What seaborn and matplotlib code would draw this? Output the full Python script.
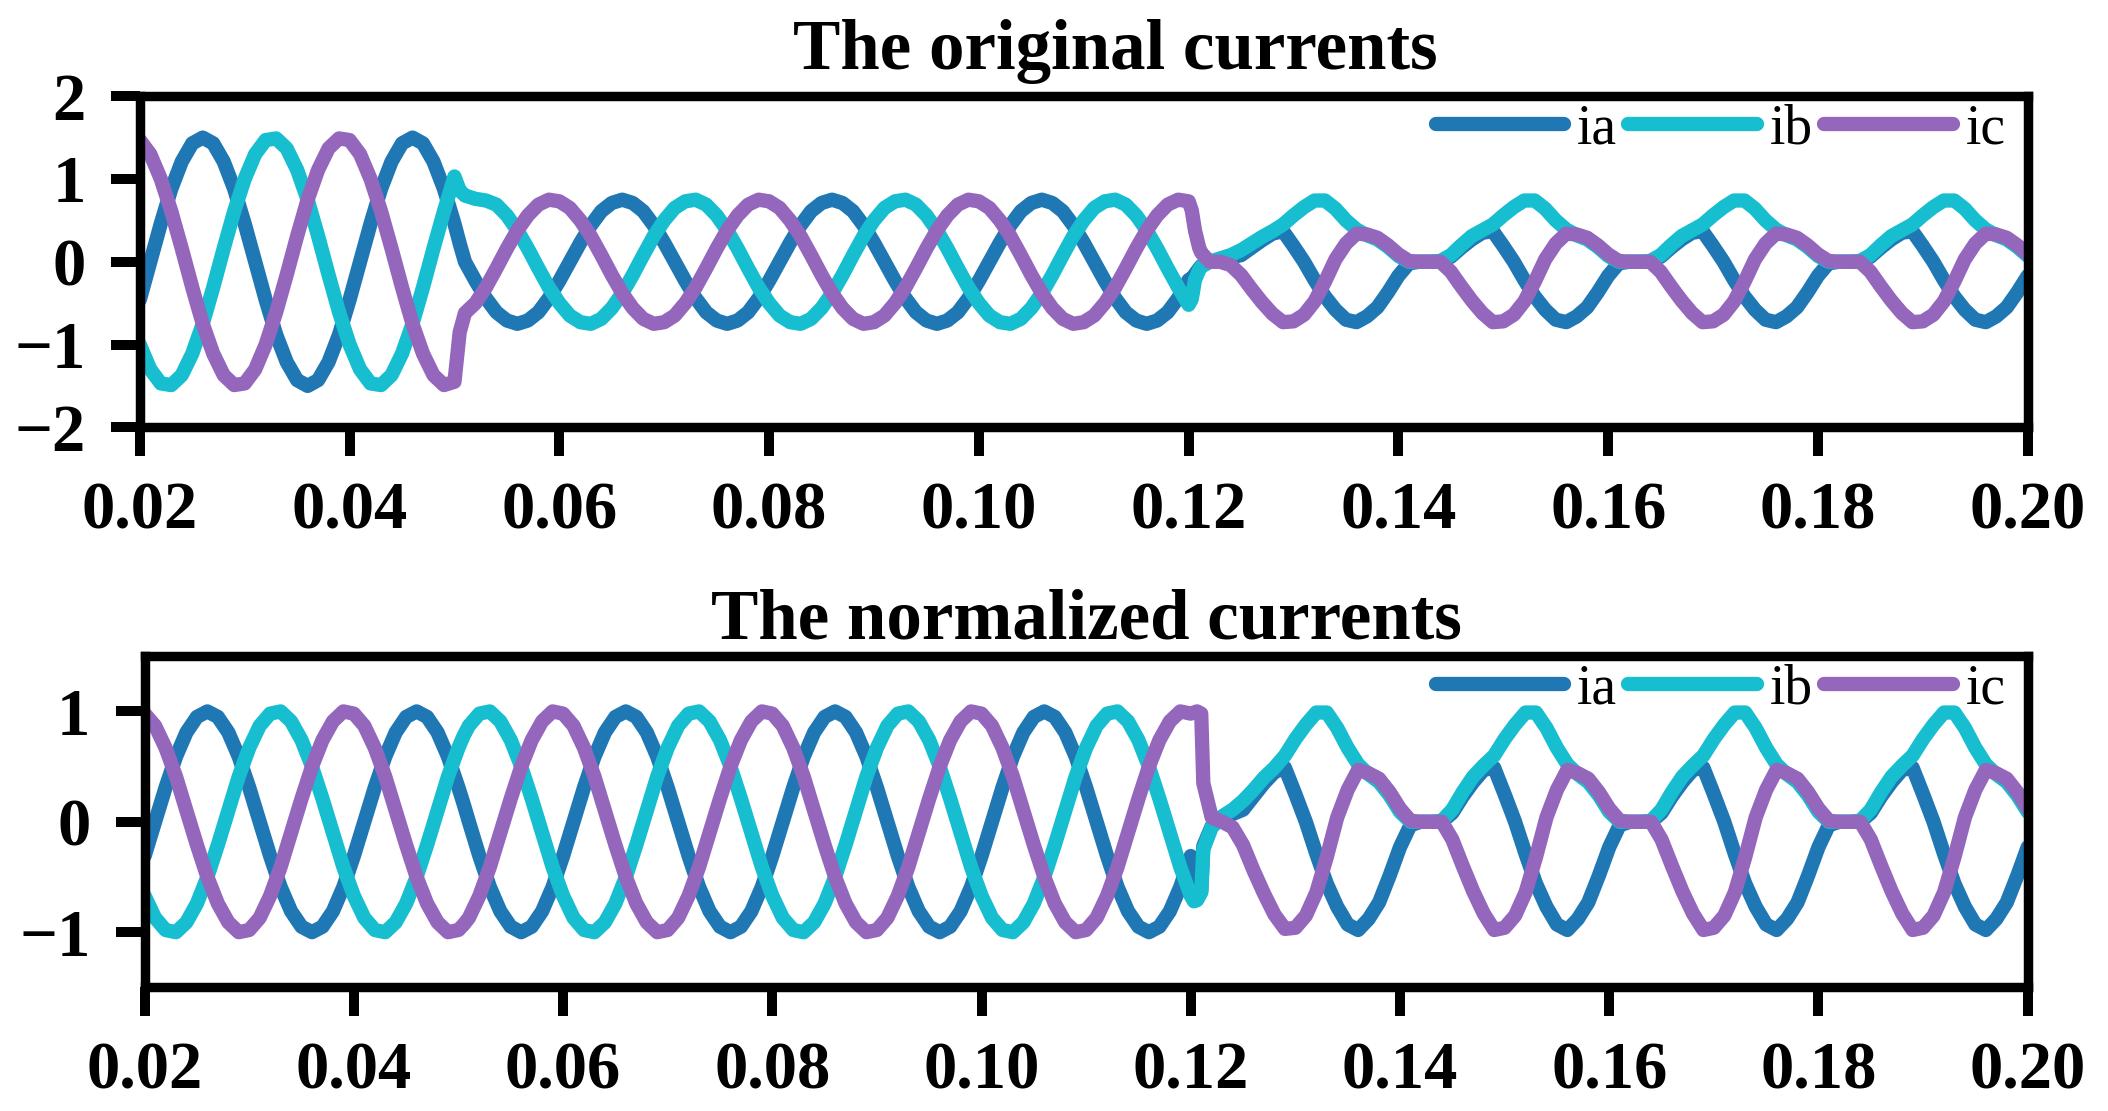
import matplotlib
matplotlib.use("Agg")
import matplotlib.pyplot as plt
import seaborn as sns
import numpy as np

# ---------------- data (time in ms) ----------------
t_ms = [20, 21, 22, 23, 24, 25, 26, 27, 28, 29,
        30, 31, 32, 33, 34, 35, 36, 37, 38, 39,
        40, 41, 42, 43, 44, 45, 46, 47, 48, 49,
        50, 50.5, 51, 52, 53, 54, 55, 56, 57, 58, 59,
        60, 61, 62, 63, 64, 65, 66, 67, 68, 69,
        70, 71, 72, 73, 74, 75, 76, 77, 78, 79,
        80, 81, 82, 83, 84, 85, 86, 87, 88, 89,
        90, 91, 92, 93, 94, 95, 96, 97, 98, 99,
        100, 101, 102, 103, 104, 105, 106, 107, 108, 109,
        110, 111, 112, 113, 114, 115, 116, 117, 118, 119,
        120, 120.3, 120.6, 121, 121.2, 122, 123, 124, 125, 126, 127, 128, 129,
        130, 131, 132, 133, 134, 135, 136, 137, 138, 139,
        140, 141, 142, 143, 144, 145, 146, 147, 148, 149,
        150, 151, 152, 153, 154, 155, 156, 157, 158, 159,
        160, 161, 162, 163, 164, 165, 166, 167, 168, 169,
        170, 171, 172, 173, 174, 175, 176, 177, 178, 179,
        180, 181, 182, 183, 184, 185, 186, 187, 188, 189,
        190, 191, 192, 193, 194, 195, 196, 197, 198, 199,
        200]

ia_orig = [-0.46, 0.0, 0.46, 0.88, 1.21, 1.43, 1.50, 1.43, 1.21, 0.88,
           0.46, 0.0, -0.46, -0.88, -1.21, -1.43, -1.50, -1.43, -1.21, -0.88,
           -0.46, 0.0, 0.46, 0.88, 1.21, 1.43, 1.50, 1.43, 1.21, 0.88,
           0.46, 0.22, 0.0, -0.23, -0.44, -0.61, -0.71, -0.75, -0.71, -0.61, -0.44,
           -0.23, 0.0, 0.23, 0.44, 0.61, 0.71, 0.75, 0.71, 0.61, 0.44,
           0.23, 0.0, -0.23, -0.44, -0.61, -0.71, -0.75, -0.71, -0.61, -0.44,
           -0.23, 0.0, 0.23, 0.44, 0.61, 0.71, 0.75, 0.71, 0.61, 0.44,
           0.23, 0.0, -0.23, -0.44, -0.61, -0.71, -0.75, -0.71, -0.61, -0.44,
           -0.23, 0.0, 0.23, 0.44, 0.61, 0.71, 0.75, 0.71, 0.61, 0.44,
           0.23, 0.0, -0.23, -0.44, -0.61, -0.71, -0.75, -0.71, -0.61, -0.44,
           -0.22, -0.20, -0.15, -0.08, -0.05, 0.0, 0.02, 0.05, 0.08, 0.17, 0.26, 0.34, 0.37,
           0.19, 0.0, -0.22, -0.42, -0.58, -0.70, -0.73, -0.66, -0.55, -0.37,
           -0.17, -0.02, 0.0, 0.0, 0.0, 0.06, 0.17, 0.27, 0.35, 0.37,
           0.19, 0.0, -0.22, -0.42, -0.58, -0.70, -0.73, -0.66, -0.55, -0.37,
           -0.17, -0.02, 0.0, 0.0, 0.0, 0.06, 0.17, 0.27, 0.35, 0.37,
           0.19, 0.0, -0.22, -0.42, -0.58, -0.70, -0.73, -0.66, -0.55, -0.37,
           -0.17, -0.02, 0.0, 0.0, 0.0, 0.06, 0.17, 0.27, 0.35, 0.37,
           0.19, 0.0, -0.22, -0.42, -0.58, -0.70, -0.73, -0.66, -0.55, -0.37,
           -0.17]

ib_orig = [-1.00, -1.30, -1.47, -1.49, -1.37, -1.11, -0.75, -0.31, 0.16, 0.61,
           1.00, 1.30, 1.47, 1.49, 1.37, 1.11, 0.75, 0.31, -0.16, -0.61,
           -1.00, -1.30, -1.47, -1.49, -1.37, -1.11, -0.75, -0.31, 0.16, 0.61,
           1.03, 0.86, 0.80, 0.76, 0.74, 0.69, 0.56, 0.38, 0.16, -0.08, -0.31,
           -0.50, -0.65, -0.73, -0.75, -0.69, -0.56, -0.38, -0.16, 0.08, 0.31,
           0.50, 0.65, 0.73, 0.75, 0.69, 0.56, 0.38, 0.16, -0.08, -0.31,
           -0.50, -0.65, -0.73, -0.75, -0.69, -0.56, -0.38, -0.16, 0.08, 0.31,
           0.50, 0.65, 0.73, 0.75, 0.69, 0.56, 0.38, 0.16, -0.08, -0.31,
           -0.50, -0.65, -0.73, -0.75, -0.69, -0.56, -0.38, -0.16, 0.08, 0.31,
           0.50, 0.65, 0.73, 0.75, 0.69, 0.56, 0.38, 0.16, -0.08, -0.31,
           -0.52, -0.45, -0.22, -0.10, -0.06, 0.0, 0.04, 0.08, 0.14, 0.22, 0.30, 0.37, 0.45,
           0.56, 0.66, 0.74, 0.74, 0.64, 0.50, 0.39, 0.32, 0.27, 0.18,
           0.07, 0.0, 0.0, 0.0, 0.01, 0.08, 0.20, 0.31, 0.38, 0.45,
           0.56, 0.66, 0.74, 0.74, 0.64, 0.50, 0.39, 0.32, 0.27, 0.18,
           0.07, 0.0, 0.0, 0.0, 0.01, 0.08, 0.20, 0.31, 0.38, 0.45,
           0.56, 0.66, 0.74, 0.74, 0.64, 0.50, 0.39, 0.32, 0.27, 0.18,
           0.07, 0.0, 0.0, 0.0, 0.01, 0.08, 0.20, 0.31, 0.38, 0.45,
           0.56, 0.66, 0.74, 0.74, 0.64, 0.50, 0.39, 0.32, 0.27, 0.18,
           0.07]

ic_orig = [1.47, 1.30, 1.00, 0.61, 0.16, -0.31, -0.75, -1.11, -1.37, -1.49,
           -1.47, -1.30, -1.00, -0.61, -0.16, 0.31, 0.75, 1.11, 1.37, 1.49,
           1.47, 1.30, 1.00, 0.61, 0.16, -0.31, -0.75, -1.11, -1.37, -1.49,
           -1.45, -0.85, -0.62, -0.50, -0.31, -0.08, 0.16, 0.38, 0.56, 0.69, 0.75,
           0.73, 0.65, 0.50, 0.31, 0.08, -0.16, -0.38, -0.56, -0.69, -0.75,
           -0.73, -0.65, -0.50, -0.31, -0.08, 0.16, 0.38, 0.56, 0.69, 0.75,
           0.73, 0.65, 0.50, 0.31, 0.08, -0.16, -0.38, -0.56, -0.69, -0.75,
           -0.73, -0.65, -0.50, -0.31, -0.08, 0.16, 0.38, 0.56, 0.69, 0.75,
           0.73, 0.65, 0.50, 0.31, 0.08, -0.16, -0.38, -0.56, -0.69, -0.75,
           -0.73, -0.65, -0.50, -0.31, -0.08, 0.16, 0.38, 0.56, 0.69, 0.75,
           0.73, 0.62, 0.38, 0.17, 0.11, 0.0, 0.0, -0.04, -0.16, -0.33, -0.49, -0.63, -0.73,
           -0.72, -0.64, -0.48, -0.24, 0.03, 0.22, 0.34, 0.33, 0.29, 0.20,
           0.09, 0.01, 0.0, 0.0, 0.0, -0.12, -0.30, -0.47, -0.62, -0.73,
           -0.72, -0.64, -0.48, -0.24, 0.03, 0.22, 0.34, 0.33, 0.29, 0.20,
           0.09, 0.01, 0.0, 0.0, 0.0, -0.12, -0.30, -0.47, -0.62, -0.73,
           -0.72, -0.64, -0.48, -0.24, 0.03, 0.22, 0.34, 0.33, 0.29, 0.20,
           0.09, 0.01, 0.0, 0.0, 0.0, -0.12, -0.30, -0.47, -0.62, -0.73,
           -0.72, -0.64, -0.48, -0.24, 0.03, 0.22, 0.34, 0.33, 0.29, 0.20,
           0.09]

ia_norm = [-0.31, 0.0, 0.31, 0.59, 0.81, 0.95, 1.00, 0.95, 0.81, 0.59,
           0.31, 0.0, -0.31, -0.59, -0.81, -0.95, -1.00, -0.95, -0.81, -0.59,
           -0.31, 0.0, 0.31, 0.59, 0.81, 0.95, 1.00, 0.95, 0.81, 0.59,
           0.31, 0.16, 0.0, -0.31, -0.59, -0.81, -0.95, -1.00, -0.95, -0.81, -0.59,
           -0.31, 0.0, 0.31, 0.59, 0.81, 0.95, 1.00, 0.95, 0.81, 0.59,
           0.31, 0.0, -0.31, -0.59, -0.81, -0.95, -1.00, -0.95, -0.81, -0.59,
           -0.31, 0.0, 0.31, 0.59, 0.81, 0.95, 1.00, 0.95, 0.81, 0.59,
           0.31, 0.0, -0.31, -0.59, -0.81, -0.95, -1.00, -0.95, -0.81, -0.59,
           -0.31, 0.0, 0.31, 0.59, 0.81, 0.95, 1.00, 0.95, 0.81, 0.59,
           0.31, 0.0, -0.31, -0.59, -0.81, -0.95, -1.00, -0.95, -0.81, -0.59,
           -0.31, -0.45, -0.66, -0.63, -0.22, -0.04, 0.03, 0.07, 0.11, 0.23, 0.35, 0.45, 0.49,
           0.25, 0.0, -0.29, -0.56, -0.77, -0.93, -0.98, -0.88, -0.73, -0.49,
           -0.23, -0.03, 0.0, 0.0, 0.0, 0.08, 0.23, 0.36, 0.47, 0.49,
           0.25, 0.0, -0.29, -0.56, -0.77, -0.93, -0.98, -0.88, -0.73, -0.49,
           -0.23, -0.03, 0.0, 0.0, 0.0, 0.08, 0.23, 0.36, 0.47, 0.49,
           0.25, 0.0, -0.29, -0.56, -0.77, -0.93, -0.98, -0.88, -0.73, -0.49,
           -0.23, -0.03, 0.0, 0.0, 0.0, 0.08, 0.23, 0.36, 0.47, 0.49,
           0.25, 0.0, -0.29, -0.56, -0.77, -0.93, -0.98, -0.88, -0.73, -0.49,
           -0.23]

ib_norm = [-0.67, -0.87, -0.98, -1.00, -0.91, -0.74, -0.50, -0.21, 0.10, 0.41,
           0.67, 0.87, 0.98, 1.00, 0.91, 0.74, 0.50, 0.21, -0.10, -0.41,
           -0.67, -0.87, -0.98, -1.00, -0.91, -0.74, -0.50, -0.21, 0.10, 0.41,
           0.67, 0.78, 0.87, 0.98, 1.00, 0.91, 0.74, 0.50, 0.21, -0.10, -0.41,
           -0.67, -0.87, -0.98, -1.00, -0.91, -0.74, -0.50, -0.21, 0.10, 0.41,
           0.67, 0.87, 0.98, 1.00, 0.91, 0.74, 0.50, 0.21, -0.10, -0.41,
           -0.67, -0.87, -0.98, -1.00, -0.91, -0.74, -0.50, -0.21, 0.10, 0.41,
           0.67, 0.87, 0.98, 1.00, 0.91, 0.74, 0.50, 0.21, -0.10, -0.41,
           -0.67, -0.87, -0.98, -1.00, -0.91, -0.74, -0.50, -0.21, 0.10, 0.41,
           0.67, 0.87, 0.98, 1.00, 0.91, 0.74, 0.50, 0.21, -0.10, -0.41,
           -0.67, -0.72, -0.71, -0.64, -0.25, -0.05, 0.05, 0.11, 0.19, 0.29, 0.40, 0.49, 0.60,
           0.75, 0.88, 0.99, 0.99, 0.85, 0.67, 0.52, 0.43, 0.36, 0.24,
           0.09, 0.0, 0.0, 0.0, 0.01, 0.11, 0.27, 0.41, 0.51, 0.60,
           0.75, 0.88, 0.99, 0.99, 0.85, 0.67, 0.52, 0.43, 0.36, 0.24,
           0.09, 0.0, 0.0, 0.0, 0.01, 0.11, 0.27, 0.41, 0.51, 0.60,
           0.75, 0.88, 0.99, 0.99, 0.85, 0.67, 0.52, 0.43, 0.36, 0.24,
           0.09, 0.0, 0.0, 0.0, 0.01, 0.11, 0.27, 0.41, 0.51, 0.60,
           0.75, 0.88, 0.99, 0.99, 0.85, 0.67, 0.52, 0.43, 0.36, 0.24,
           0.09]

ic_norm = [0.98, 0.87, 0.67, 0.41, 0.10, -0.21, -0.50, -0.74, -0.91, -1.00,
           -0.98, -0.87, -0.67, -0.41, -0.10, 0.21, 0.50, 0.74, 0.91, 1.00,
           0.98, 0.87, 0.67, 0.41, 0.10, -0.21, -0.50, -0.74, -0.91, -1.00,
           -0.98, -0.93, -0.87, -0.67, -0.41, -0.10, 0.21, 0.50, 0.74, 0.91, 1.00,
           0.98, 0.87, 0.67, 0.41, 0.10, -0.21, -0.50, -0.74, -0.91, -1.00,
           -0.98, -0.87, -0.67, -0.41, -0.10, 0.21, 0.50, 0.74, 0.91, 1.00,
           0.98, 0.87, 0.67, 0.41, 0.10, -0.21, -0.50, -0.74, -0.91, -1.00,
           -0.98, -0.87, -0.67, -0.41, -0.10, 0.21, 0.50, 0.74, 0.91, 1.00,
           0.98, 0.87, 0.67, 0.41, 0.10, -0.21, -0.50, -0.74, -0.91, -1.00,
           -0.98, -0.87, -0.67, -0.41, -0.10, 0.21, 0.50, 0.74, 0.91, 1.00,
           0.98, 0.99, 1.00, 0.98, 0.35, 0.04, 0.0, -0.05, -0.21, -0.44, -0.65, -0.84, -0.97,
           -0.96, -0.85, -0.64, -0.32, 0.04, 0.29, 0.47, 0.44, 0.39, 0.27,
           0.12, 0.01, 0.0, 0.0, 0.0, -0.16, -0.40, -0.63, -0.83, -0.98,
           -0.96, -0.85, -0.64, -0.32, 0.04, 0.29, 0.47, 0.44, 0.39, 0.27,
           0.12, 0.01, 0.0, 0.0, 0.0, -0.16, -0.40, -0.63, -0.83, -0.98,
           -0.96, -0.85, -0.64, -0.32, 0.04, 0.29, 0.47, 0.44, 0.39, 0.27,
           0.12, 0.01, 0.0, 0.0, 0.0, -0.16, -0.40, -0.63, -0.83, -0.98,
           -0.96, -0.85, -0.64, -0.32, 0.04, 0.29, 0.47, 0.44, 0.39, 0.27,
           0.12]

series_names = ["ia", "ib", "ic"]
series_colors = ["#1f77b4", "#17becf", "#9467bd"]
x_ticks = [0.02, 0.04, 0.06, 0.08, 0.10, 0.12, 0.14, 0.16, 0.18, 0.20]
y_ticks_top = [-2, -1, 0, 1, 2]
y_ticks_bottom = [-1, 0, 1]
titles = ["The original currents", "The normalized currents"]

for arr in (ia_orig, ib_orig, ic_orig, ia_norm, ib_norm, ic_norm):
    assert len(arr) == len(t_ms), len(arr)

t_s = np.array(t_ms) / 1000.0

# ---------------- style ----------------
sns.set_theme(style="ticks")
plt.rcParams["font.family"] = ["Liberation Serif", "DejaVu Serif"]
plt.rcParams["axes.edgecolor"] = "black"
plt.rcParams["xtick.color"] = "black"
plt.rcParams["ytick.color"] = "black"
plt.rcParams["text.color"] = "black"
plt.rcParams["axes.unicode_minus"] = True

fig = plt.figure(figsize=(21.08, 11.11), dpi=100)
ax1 = fig.add_axes([0.06632, 0.6154, 0.8956, 0.2980])
ax2 = fig.add_axes([0.0686, 0.11125, 0.8933, 0.2981])

LW = 10.3

def draw(ax, data, yticks, ylim, title, title_x, title_pad):
    for vals, name, col in zip(data, series_names, series_colors):
        sns.lineplot(x=t_s, y=vals, ax=ax, color=col, linewidth=LW, label=name,
                     estimator=None, solid_capstyle="round",
                     solid_joinstyle="round")
    ax.set_xlim(0.02, 0.20)
    ax.set_ylim(*ylim)
    ax.set_xticks(x_ticks)
    ax.set_xticklabels([f"{v:.2f}" for v in x_ticks])
    ax.set_yticks(yticks)
    ax.set_yticklabels([("\u2212" if v < 0 else "") + str(abs(v)) for v in yticks])
    ax.tick_params(axis="both", which="major", direction="out", length=21,
                   width=7.2, labelsize=48, pad=18, color="black")
    for lbl in ax.get_xticklabels() + ax.get_yticklabels():
        lbl.set_fontweight("bold")
    for s in ax.spines.values():
        s.set_visible(True)
        s.set_linewidth(6.8)
        s.set_color("black")
    ax.set_xlabel("")
    ax.set_ylabel("")
    ax.set_title(title, fontsize=51, fontweight="bold", pad=title_pad, x=title_x)
    ax.legend(loc="center right", bbox_to_anchor=(0.9885, 0.900), ncol=3,
              frameon=False, fontsize=40, handlelength=2.32,
              handletextpad=0.23, columnspacing=0.2, borderpad=0,
              borderaxespad=0)

draw(ax1, [ia_orig, ib_orig, ic_orig], y_ticks_top, (-2, 2), titles[0], 0.5167, 19.4)
draw(ax2, [ia_norm, ib_norm, ic_norm], y_ticks_bottom, (-1.5, 1.5), titles[1], 0.5, 13)

fig.savefig("out.png", dpi=100)
